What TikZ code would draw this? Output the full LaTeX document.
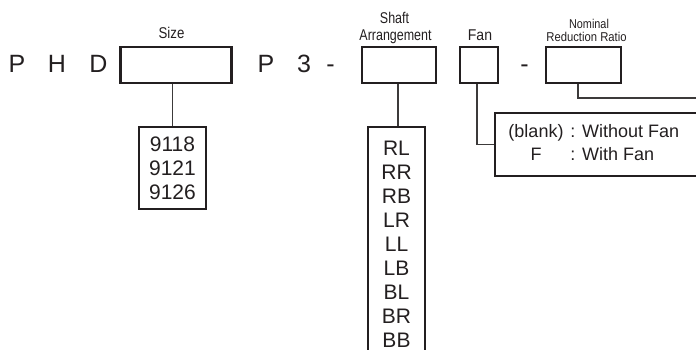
\documentclass[tikz,border=0pt]{standalone}
\usepackage{fontspec}
\setmainfont{Liberation Sans}
\usepackage{tikz}
\usetikzlibrary{positioning}
\definecolor{ink}{RGB}{35,31,32}
\definecolor{wire}{RGB}{60,58,58}
\newcommand\codefont{\fontsize{12.5pt}{15pt}\selectfont}
\newcommand\listfont{\fontsize{10.5pt}{11.9pt}\selectfont}
\newcommand\fanfont{\fontsize{9pt}{11pt}\selectfont}
\newcommand\lblfont{\fontsize{7.8pt}{9pt}\selectfont}
\newcommand\smallblfont{\fontsize{6.4pt}{7pt}\selectfont}
\newcommand\narrow[2]{\scalebox{#1}[1]{#2}}

\begin{document}
\begin{tikzpicture}[x=0.5pt, y=-0.5pt,
    box/.style={draw=ink, line width=1.2pt, rectangle, inner sep=0pt},
    code/.style={text=ink, font=\codefont, anchor=base, inner sep=0pt},
    lbl/.style={text=ink, font=\lblfont, anchor=base, inner sep=0pt},
    conn/.style={draw=wire, line width=0.6pt}]
    \useasboundingbox (0,0) rectangle (696,349);
    \clip (0,0) rectangle (696,349);

    % Letters of the model code
    \node[code] (cp) at (17,72) {P};
    \node[code] (ch) at (57,72) {H};
    \node[code] (cd) at (98.5,72) {D};
    \node[code] (cp3) at (266,72) {P};
    \node[code] (c3) at (304,72) {3};
    \node[code] (cdash) at (330.5,72) {-};
    \node[code] (cdash2) at (524.5,72) {-};

    % Empty boxes of the code
    \node[box, minimum width=55.5pt, minimum height=18pt] (size) at (176,65) {};
    \node[box, minimum width=37pt, minimum height=18pt] (shaft) at (399,65) {};
    \node[box, minimum width=19pt, minimum height=18pt] (fan) at (479,65) {};
    \node[box, minimum width=37.5pt, minimum height=18pt] (ratio) at (583.5,65) {};

    % Labels above the boxes
    \node[lbl] (sizelbl) at (171.5,38) {\narrow{0.85}{Size}};
    \node[lbl] (shaftlbl) at (394.5,23) {\narrow{0.8}{Shaft}};
    \node[lbl] (arrlbl) at (395.5,40) {\narrow{0.8}{Arrangement}};
    \node[lbl] (fanlbl) at (480,40) {\narrow{0.9}{Fan}};
    \node[lbl, font=\smallblfont] (nomlbl) at (589,28) {\narrow{0.85}{Nominal}};
    \node[lbl, font=\smallblfont] (redlbl) at (586.5,41) {\narrow{0.88}{Reduction Ratio}};

    % Size list
    \node[box, minimum width=33.5pt, minimum height=41pt, align=center,
          font=\listfont, text=ink] (sizeopts) at (172.5,168) {9118\\9121\\9126};
    \draw[conn] (sizeopts.north) -- (sizeopts.north |- size.south);

    % Shaft arrangement list (runs off the bottom)
    \node[box, minimum width=28.5pt, minimum height=117pt, align=center,
          font=\fontsize{10.5pt}{12pt}\selectfont, text=ink] (shaftopts) at (396.5,244)
          {RL\\RR\\RB\\LR\\LL\\LB\\BL\\BR\\BB};
    \draw[conn] (shaft.south -| 398,0) -- (shaftopts.north -| 398,0);

    % Fan options (runs off the right side)
    \node[box, minimum width=117.5pt, minimum height=31.5pt] (fanopts) at (612.5,144.5) {};
    \node[text=ink, font=\fanfont, anchor=base, inner sep=0pt] (blank) at (536,137) {(blank)};
    \node[text=ink, font=\fanfont, anchor=base west, inner sep=0pt] (nofan) at (570,137) {: Without Fan};
    \node[text=ink, font=\fanfont, anchor=base, inner sep=0pt] (f) at (536,160) {F};
    \node[text=ink, font=\fanfont, anchor=base west, inner sep=0pt] (withfan) at (570,160) {: With Fan};
    \draw[conn] ([xshift=-1pt]fan.south) |- (fanopts.west);

    % Ratio line to the right edge
    \coordinate (ratioend) at (700,98);
    \draw[conn] ([xshift=-2.75pt]ratio.south) |- (ratioend);
\end{tikzpicture}
\end{document}
